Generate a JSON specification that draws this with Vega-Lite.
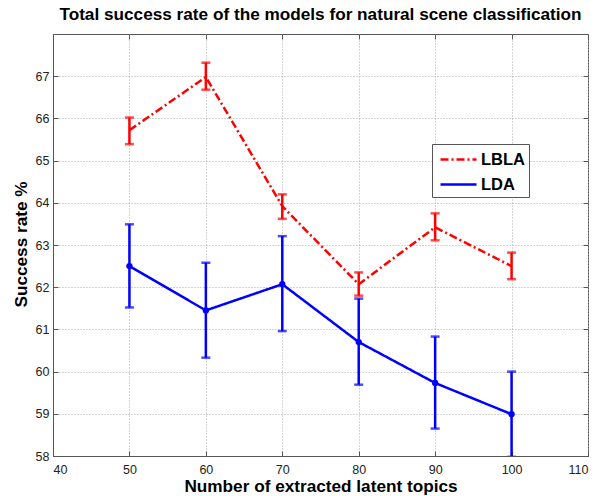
{
  "$schema": "https://vega.github.io/schema/vega-lite/v6.json",
  "width": 535,
  "height": 422,
  "autosize": {"type": "none"},
  "padding": {"left": 53, "top": 34, "right": 10, "bottom": 40},
  "background": "white",
  "title": {
    "text": "Total success rate of the models for natural scene classification",
    "font": "Liberation Sans",
    "fontSize": 17.2,
    "fontWeight": "bold",
    "color": "black",
    "anchor": "middle",
    "offset": 10.5
  },
  "config": {
    "view": {"stroke": "#555", "strokeWidth": 1},
    "axis": {
      "labelFont": "Liberation Sans",
      "labelFontSize": 12.5,
      "labelColor": "#222",
      "titleFont": "Liberation Sans",
      "titleFontSize": 17.2,
      "titleFontWeight": "bold",
      "titleColor": "black",
      "domainColor": "#555",
      "tickColor": "#555",
      "gridColor": "#aaa",
      "gridDash": [1, 2],
      "gridWidth": 1
    }
  },
  "data": {
    "values": [
      {"model": "LBLA", "topics": 50, "rate": 65.72, "lo": 65.39, "hi": 66.02},
      {"model": "LBLA", "topics": 60, "rate": 66.98, "lo": 66.68, "hi": 67.32},
      {"model": "LBLA", "topics": 70, "rate": 63.92, "lo": 63.62, "hi": 64.2},
      {"model": "LBLA", "topics": 80, "rate": 62.07, "lo": 61.8, "hi": 62.35},
      {"model": "LBLA", "topics": 90, "rate": 63.42, "lo": 63.11, "hi": 63.75},
      {"model": "LBLA", "topics": 100, "rate": 62.5, "lo": 62.19, "hi": 62.82},
      {"model": "LDA", "topics": 50, "rate": 62.5, "lo": 61.52, "hi": 63.49},
      {"model": "LDA", "topics": 60, "rate": 61.45, "lo": 60.33, "hi": 62.58},
      {"model": "LDA", "topics": 70, "rate": 62.07, "lo": 60.96, "hi": 63.21},
      {"model": "LDA", "topics": 80, "rate": 60.7, "lo": 59.69, "hi": 61.73},
      {"model": "LDA", "topics": 90, "rate": 59.73, "lo": 58.65, "hi": 60.83},
      {"model": "LDA", "topics": 100, "rate": 58.99, "lo": 57.98, "hi": 60.0}
    ]
  },
  "resolve": {"axis": {"x": "independent", "y": "independent"}},
  "layer": [
    {
      "mark": {"type": "line", "strokeWidth": 2.5, "clip": true},
      "encoding": {
        "x": {
          "field": "topics", "type": "quantitative",
          "scale": {"domain": [40, 110], "nice": false, "zero": false},
          "axis": {
            "values": [40, 50, 60, 70, 80, 90, 100, 110],
            "title": "Number of extracted latent topics",
            "titleY": 35, "titleBaseline": "alphabetic",
            "tickSize": -5, "labelPadding": 12
          }
        },
        "y": {
          "field": "rate", "type": "quantitative",
          "scale": {"domain": [58, 68], "nice": false, "zero": false},
          "axis": {
            "values": [58, 59, 60, 61, 62, 63, 64, 65, 66, 67],
            "title": "Success rate %",
            "titleX": -32, "titleY": 210, "titleAngle": -90,
            "titleAlign": "center", "titleBaseline": "middle",
            "tickSize": -5, "labelPadding": 9
          }
        },
        "color": {
          "field": "model", "type": "nominal",
          "scale": {"domain": ["LBLA", "LDA"], "range": ["#ff0000", "#0000ff"]},
          "legend": {
            "title": null,
            "orient": "none",
            "legendX": 379,
            "legendY": 110,
            "direction": "vertical",
            "symbolType": "M-1,0H2.6",
            "symbolSize": 400,
            "symbolOffset": 3,
            "symbolStrokeWidth": 2.5,
            "labelFont": "Liberation Sans",
            "labelFontSize": 16.5,
            "labelFontWeight": "bold",
            "labelColor": "black",
            "fillColor": "white",
            "strokeColor": "#555",
            "padding": 4,
            "rowPadding": 5,
            "labelOffset": 19
          }
        },
        "strokeDash": {
          "field": "model", "type": "nominal",
          "scale": {"domain": ["LBLA", "LDA"], "range": [[8, 3, 2, 3], [1, 0]]},
          "legend": {
            "title": null,
            "orient": "none",
            "legendX": 379,
            "legendY": 110,
            "direction": "vertical",
            "symbolType": "M-1,0H2.6",
            "symbolSize": 400,
            "symbolOffset": 3,
            "symbolStrokeWidth": 2.5,
            "labelFont": "Liberation Sans",
            "labelFontSize": 16.5,
            "labelFontWeight": "bold",
            "labelColor": "black",
            "fillColor": "white",
            "strokeColor": "#555",
            "padding": 4,
            "rowPadding": 5,
            "labelOffset": 19
          }
        }
      }
    },
    {
      "transform": [{"filter": "datum.model === 'LDA'"}],
      "mark": {"type": "point", "filled": true, "size": 40, "opacity": 1, "clip": true},
      "encoding": {
        "x": {"field": "topics", "type": "quantitative", "axis": null},
        "y": {"field": "rate", "type": "quantitative", "axis": null},
        "color": {"field": "model", "type": "nominal", "legend": null}
      }
    },
    {
      "mark": {"type": "rule", "strokeWidth": 2.5, "clip": true},
      "encoding": {
        "x": {
          "field": "topics", "type": "quantitative",
          "axis": {"orient": "top", "labels": false, "grid": false, "domain": false, "title": null,
                   "values": [40, 50, 60, 70, 80, 90, 100, 110], "tickSize": -5}
        },
        "y": {
          "field": "lo", "type": "quantitative",
          "axis": {"orient": "right", "labels": false, "grid": false, "domain": false, "title": null,
                   "values": [58, 59, 60, 61, 62, 63, 64, 65, 66, 67], "tickSize": -5}
        },
        "y2": {"field": "hi"},
        "color": {"field": "model", "type": "nominal", "legend": null}
      }
    },
    {
      "mark": {"type": "tick", "orient": "horizontal", "thickness": 2.5, "size": 9, "clip": true},
      "encoding": {
        "x": {"field": "topics", "type": "quantitative", "axis": null},
        "y": {"field": "lo", "type": "quantitative", "axis": null},
        "color": {"field": "model", "type": "nominal", "legend": null}
      }
    },
    {
      "mark": {"type": "tick", "orient": "horizontal", "thickness": 2.5, "size": 9, "clip": true},
      "encoding": {
        "x": {"field": "topics", "type": "quantitative", "axis": null},
        "y": {"field": "hi", "type": "quantitative", "axis": null},
        "color": {"field": "model", "type": "nominal", "legend": null}
      }
    }
  ]
}
